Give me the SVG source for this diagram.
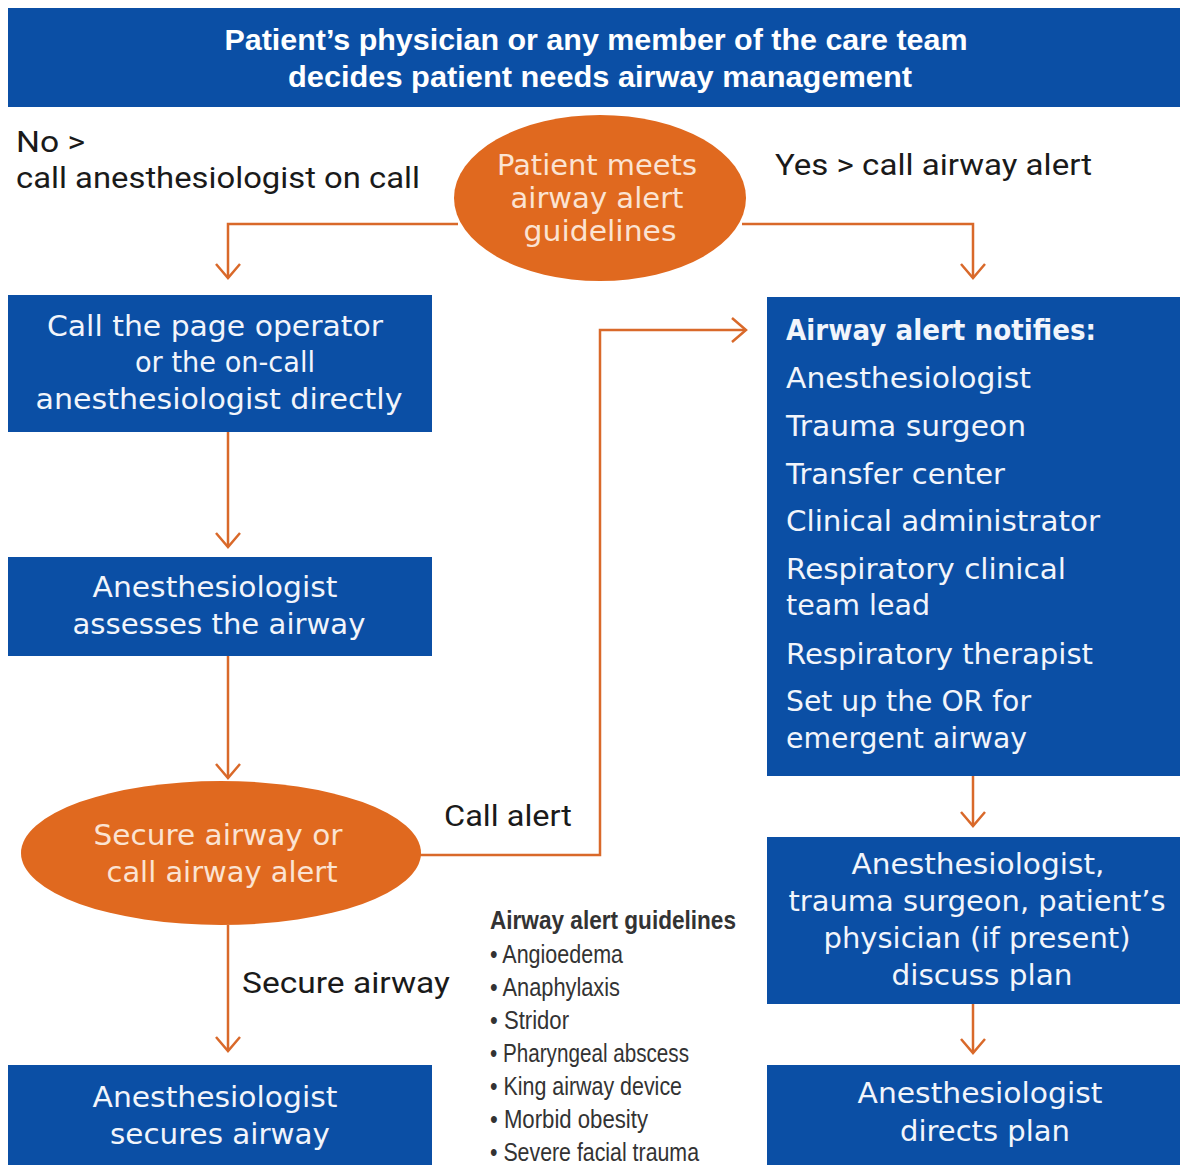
<svg xmlns="http://www.w3.org/2000/svg" width="1180" height="1165" viewBox="0 0 1180 1165">
<defs>
<style>
.box{fill:#0b4fa5}
.oval{fill:#e0691f}
.bt{font-family:"DejaVu Sans","Open Sans",sans-serif;font-size:29px;fill:#f2f5fb;text-anchor:middle}
.lt{font-family:"DejaVu Sans","Open Sans",sans-serif;font-size:29px;fill:#f2f5fb}
.ot{font-family:"DejaVu Sans","Open Sans",sans-serif;font-size:29px;fill:#fbe3d2;text-anchor:middle}
.ot2{font-family:"DejaVu Sans","Open Sans",sans-serif;font-size:28px;fill:#fbe3d2;text-anchor:middle}
.lab{font-family:"Roboto","Liberation Sans",sans-serif;font-size:29px;fill:#1a1a1a}
.gl{font-family:"Liberation Sans",sans-serif;font-size:25px;fill:#333}
.ttl{font-family:"Liberation Sans",sans-serif;font-weight:bold;font-size:29px;fill:#ffffff;text-anchor:middle}
.conn{fill:none;stroke:#d9692a;stroke-width:2.5}
</style>
<marker id="ah" viewBox="0 0 20 26" refX="18" refY="13" markerWidth="20" markerHeight="26" markerUnits="userSpaceOnUse" orient="auto">
<path d="M4,1 L18,13 L4,25" fill="none" stroke="#d9692a" stroke-width="2.5"/>
</marker>
</defs>
<rect width="1180" height="1165" fill="#ffffff"/>

<g id="connectors">
<path class="conn" d="M458,224 H228 V278" marker-end="url(#ah)"/>
<path class="conn" d="M742,224 H973 V278" marker-end="url(#ah)"/>
<path class="conn" d="M228,432 V547" marker-end="url(#ah)"/>
<path class="conn" d="M228,656 V778" marker-end="url(#ah)"/>
<path class="conn" d="M420,855 H600 V330 H746" marker-end="url(#ah)"/>
<path class="conn" d="M228,925 V1051" marker-end="url(#ah)"/>
<path class="conn" d="M973,776 V826" marker-end="url(#ah)"/>
<path class="conn" d="M973,1004 V1053" marker-end="url(#ah)"/>
<text class="lab" x="16" y="152" textLength="69" lengthAdjust="spacingAndGlyphs">No &gt;</text>
<text class="lab" x="16" y="188" textLength="404" lengthAdjust="spacingAndGlyphs">call anesthesiologist on call</text>
<text class="lab" x="775" y="175" textLength="317" lengthAdjust="spacingAndGlyphs">Yes &gt; call airway alert</text>
<text class="lab" x="444" y="826" textLength="128" lengthAdjust="spacingAndGlyphs">Call alert</text>
<text class="lab" x="242" y="993" textLength="208" lengthAdjust="spacingAndGlyphs">Secure airway</text>
</g>

<g id="n-start">
<rect class="box" x="8" y="8" width="1172" height="99"/>
<text class="ttl" x="596" y="50" textLength="743" lengthAdjust="spacingAndGlyphs">Patient’s physician or any member of the care team</text>
<text class="ttl" x="600" y="87" textLength="624" lengthAdjust="spacingAndGlyphs">decides patient needs airway management</text>
</g>

<g id="n-meets">
<ellipse class="oval" cx="600" cy="198" rx="146" ry="83"/>
<text class="ot2" x="597" y="175" textLength="200" lengthAdjust="spacingAndGlyphs">Patient meets</text>
<text class="ot2" x="597" y="208" textLength="173" lengthAdjust="spacingAndGlyphs">airway alert</text>
<text class="ot2" x="600" y="241" textLength="153" lengthAdjust="spacingAndGlyphs">guidelines</text>
</g>

<g id="n-call-page">
<rect class="box" x="8" y="295" width="424" height="137"/>
<text class="bt" x="215" y="336" textLength="336" lengthAdjust="spacingAndGlyphs">Call the page operator</text>
<text class="bt" x="225" y="372" textLength="180" lengthAdjust="spacingAndGlyphs">or the on-call</text>
<text class="bt" x="219" y="409" textLength="367" lengthAdjust="spacingAndGlyphs">anesthesiologist directly</text>
</g>

<g id="n-assess">
<rect class="box" x="8" y="557" width="424" height="99"/>
<text class="bt" x="215" y="597" textLength="245" lengthAdjust="spacingAndGlyphs">Anesthesiologist</text>
<text class="bt" x="219" y="634" textLength="293" lengthAdjust="spacingAndGlyphs">assesses the airway</text>
</g>

<g id="n-secure-or-call">
<ellipse class="oval" cx="221" cy="853" rx="200" ry="72"/>
<text class="ot" x="218" y="845" textLength="249" lengthAdjust="spacingAndGlyphs">Secure airway or</text>
<text class="ot" x="222" y="882" textLength="231" lengthAdjust="spacingAndGlyphs">call airway alert</text>
</g>

<g id="n-secures">
<rect class="box" x="8" y="1065" width="424" height="100"/>
<text class="bt" x="215" y="1107" textLength="245" lengthAdjust="spacingAndGlyphs">Anesthesiologist</text>
<text class="bt" x="220" y="1144" textLength="220" lengthAdjust="spacingAndGlyphs">secures airway</text>
</g>

<g id="n-notifies">
<rect class="box" x="767" y="297" width="413" height="479"/>
<text class="lt" x="786" y="340" font-weight="bold" textLength="310" lengthAdjust="spacingAndGlyphs">Airway alert notifies:</text>
<text class="lt" x="786" y="388" textLength="245" lengthAdjust="spacingAndGlyphs">Anesthesiologist</text>
<text class="lt" x="786" y="436" textLength="240" lengthAdjust="spacingAndGlyphs">Trauma surgeon</text>
<text class="lt" x="786" y="484" textLength="219" lengthAdjust="spacingAndGlyphs">Transfer center</text>
<text class="lt" x="786" y="531" textLength="314" lengthAdjust="spacingAndGlyphs">Clinical administrator</text>
<text class="lt" x="786" y="579" textLength="280" lengthAdjust="spacingAndGlyphs">Respiratory clinical</text>
<text class="lt" x="786" y="615" textLength="144" lengthAdjust="spacingAndGlyphs">team lead</text>
<text class="lt" x="786" y="664" textLength="307" lengthAdjust="spacingAndGlyphs">Respiratory therapist</text>
<text class="lt" x="786" y="711" textLength="245" lengthAdjust="spacingAndGlyphs">Set up the OR for</text>
<text class="lt" x="786" y="748" textLength="241" lengthAdjust="spacingAndGlyphs">emergent airway</text>
</g>

<g id="n-discuss">
<rect class="box" x="767" y="837" width="413" height="167"/>
<text class="bt" x="978" y="874" textLength="253" lengthAdjust="spacingAndGlyphs">Anesthesiologist,</text>
<text class="bt" x="977" y="911" textLength="377" lengthAdjust="spacingAndGlyphs">trauma surgeon, patient’s</text>
<text class="bt" x="977" y="948" textLength="307" lengthAdjust="spacingAndGlyphs">physician (if present)</text>
<text class="bt" x="982" y="985" textLength="181" lengthAdjust="spacingAndGlyphs">discuss plan</text>
</g>

<g id="n-directs">
<rect class="box" x="767" y="1065" width="413" height="100"/>
<text class="bt" x="980" y="1103" textLength="245" lengthAdjust="spacingAndGlyphs">Anesthesiologist</text>
<text class="bt" x="985" y="1141" textLength="170" lengthAdjust="spacingAndGlyphs">directs plan</text>
</g>

<g id="guidelines">
<text class="gl" x="490" y="929" font-weight="bold" textLength="246" lengthAdjust="spacingAndGlyphs">Airway alert guidelines</text>
<text class="gl" x="490" y="963" textLength="133" lengthAdjust="spacingAndGlyphs">• Angioedema</text>
<text class="gl" x="490" y="996" textLength="130" lengthAdjust="spacingAndGlyphs">• Anaphylaxis</text>
<text class="gl" x="490" y="1029" textLength="79" lengthAdjust="spacingAndGlyphs">• Stridor</text>
<text class="gl" x="490" y="1062" textLength="199" lengthAdjust="spacingAndGlyphs">• Pharyngeal abscess</text>
<text class="gl" x="490" y="1095" textLength="192" lengthAdjust="spacingAndGlyphs">• King airway device</text>
<text class="gl" x="490" y="1128" textLength="158" lengthAdjust="spacingAndGlyphs">• Morbid obesity</text>
<text class="gl" x="490" y="1161" textLength="209" lengthAdjust="spacingAndGlyphs">• Severe facial trauma</text>
</g>
</svg>
